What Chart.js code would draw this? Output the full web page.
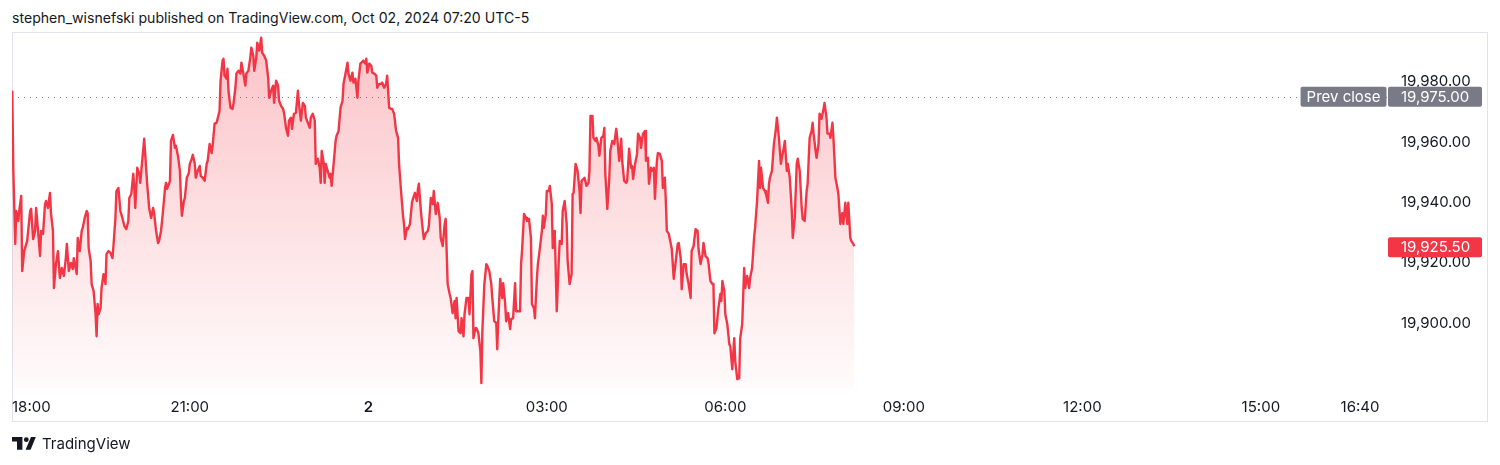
<!DOCTYPE html>
<html>
<head>
<meta charset="utf-8">
<script src="https://cdn.jsdelivr.net/npm/chart.js@4.4.1/dist/chart.umd.min.js"></script>
<style>
  html, body { margin:0; padding:0; background:#fff; width:1500px; height:465px; overflow:hidden;
    font-family: Inter, "Noto Sans", sans-serif; color:#131722; }
  #title { position:absolute; left:12px; top:9px; font-size:14.1px; line-height:17px; white-space:nowrap; }
  #frame { position:absolute; left:12px; top:32px; width:1474px; height:388px; border:1px solid #e0e3eb; box-sizing:content-box; }
  #wrap { position:absolute; left:0; top:0; width:1500px; height:465px; }
  #footer { position:absolute; left:12px; top:435px; height:17px; display:flex; align-items:center; }
  #footer span { font-size:15px; margin-left:6px; line-height:17px; color:#131722; }
</style>
</head>
<body>
<div id="frame"></div>
<div id="title">stephen_wisnefski published on TradingView.com, Oct 02, 2024 07:20 UTC-5</div>
<div id="wrap"><canvas id="c" width="1500" height="465"></canvas></div>
<div id="footer">
  <svg width="24" height="13" viewBox="0 0 24 13">
    <path d="M0 0 H10.4 V12.7 H5 V4.4 H0 Z" fill="#131722"/>
    <circle cx="14.3" cy="2.7" r="2.4" fill="#131722"/>
    <path d="M19 0 H23.8 L18.6 12.7 H13.6 Z" fill="#131722"/>
  </svg>
  <span>TradingView</span>
</div>
<script>
// ---- data (minutes after 18:00 on Oct 1, last price) ----
const times = [
  1,2,4,5,7,8,10,11,13,16,
  19,20,22,24,25,27,29,30,32,34,
  35,37,39,40,42,43,45,47,49,51,
  53,55,56,58,60,62,63,66,67,69,
  71,72,74,76,77,78,80,81,83,85,
  86,87,88,90,91,93,95,96,98,100,
  102,103,105,106,108,110,112,114,116,118,
  119,121,123,124,125,127,129,130,132,134,
  135,137,139,141,143,144,146,148,149,151,
  153,155,156,157,159,160,161,163,165,166,
  168,170,171,172,174,175,177,179,180,182,
  183,185,186,188,190,191,193,195,197,198,
  200,202,203,205,207,208,210,211,213,214,
  215,217,218,219,221,223,224,226,227,229,
  231,232,234,236,237,239,241,242,244,245,
  247,248,250,252,253,255,257,259,260,262,
  264,265,267,269,270,272,274,275,277,279,
  280,282,283,285,287,289,290,292,294,296,
  297,299,301,302,304,306,307,309,311,312,
  313,315,316,317,319,321,322,323,325,327,
  328,330,332,334,335,337,339,340,342,344,
  345,347,349,350,352,353,355,357,358,359,
  361,363,364,366,368,369,371,373,374,376,
  378,379,381,383,384,386,388,390,391,393,
  395,396,397,399,400,402,404,405,407,409,
  410,411,413,415,416,418,420,421,423,425,
  426,428,430,432,433,435,437,438,440,442,
  443,445,447,448,449,451,453,454,456,457,
  459,461,462,464,465,466,468,469,471,473,
  474,475,477,479,480,482,484,485,487,489,
  490,491,493,495,496,498,499,501,503,504,
  506,508,509,511,513,514,515,517,519,520,
  522,524,525,527,528,530,531,533,535,536,
  537,539,540,542,543,545,546,547,548,550,
  552,553,555,556,558,560,561,563,565,566,
  567,569,571,573,574,575,577,578,580,582,
  583,584,586,587,589,590,592,593,595,597,
  598,599,601,603,604,606,608,610,611,613,
  615,616,618,620,621,623,625,626,627,629,
  631,632,634,635,637,639,640,642,643,645,
  646,648,649,651,652,654,656,657,659,660,
  661,663,665,666,668,670,672,673,675,676,
  678,680,681,683,685,686,688,690,692,693,
  695,697,698,700,702,703,705,707,708,709,
  711,713,715,716,717,719,720,722,724,725,
  727,729,730,732,734,735,737,739,740,742,
  744,745,747,749,750,752,754,755,756,758,
  760,761,763,764,765,767,769,771,772,774,
  776,777,779,780,782,783,785,787,788,790,
  792,793,795,797,798,800,802,803,805,807,
  808,809,811,812,814,815,817,819,820,822,
  823,825,826,828,829,831,833,834,836,838,
  839,841,843,844,846,847,849,850
];
const prices = [
  19977.0,19951.1,19926.3,19937.2,19933.9,19937.2,19942.2,19917.3,19923.9,19927.3,
  19937.2,19937.9,19927.9,19930.6,19938.2,19930.6,19922.3,19930.6,19929.6,19939.5,
  19940.5,19938.2,19943.2,19936.5,19930.6,19911.7,19919.6,19923.9,19915.0,19918.3,
  19915.7,19921.6,19926.3,19917.3,19920.0,19918.0,19921.6,19916.3,19928.3,19923.9,
  19930.6,19931.6,19934.9,19937.2,19936.5,19924.9,19920.6,19913.0,19910.7,19903.0,
  19895.7,19906.4,19903.0,19905.0,19911.7,19916.3,19913.0,19922.9,19923.9,19923.3,
  19921.6,19925.6,19934.9,19943.8,19944.8,19937.2,19934.9,19932.2,19931.2,19933.9,
  19941.5,19942.8,19949.5,19944.8,19938.2,19951.5,19949.5,19946.5,19953.8,19961.1,
  19956.1,19946.2,19938.2,19934.9,19938.2,19936.5,19930.6,19926.6,19927.3,19930.6,
  19937.2,19944.8,19946.5,19944.5,19946.2,19947.2,19960.4,19962.4,19958.1,19958.8,
  19955.5,19950.5,19941.5,19935.6,19940.5,19941.5,19948.2,19949.8,19952.8,19954.5,
  19955.8,19952.8,19948.2,19950.5,19952.1,19948.8,19948.2,19947.2,19952.8,19953.8,
  19959.4,19956.4,19958.8,19966.1,19966.4,19967.7,19970.4,19980.3,19987.0,19987.6,
  19982.0,19981.0,19984.3,19977.0,19971.4,19971.0,19972.7,19978.0,19982.7,19983.6,
  19982.7,19986.3,19982.7,19978.7,19982.7,19983.6,19988.0,19991.3,19988.6,19983.6,
  19988.0,19992.9,19990.3,19994.6,19989.6,19988.6,19987.0,19981.3,19974.7,19977.0,
  19978.7,19973.0,19980.3,19978.7,19973.7,19972.0,19971.0,19969.7,19964.7,19962.1,
  19967.1,19968.1,19964.4,19969.4,19969.7,19977.0,19973.0,19967.1,19973.0,19972.0,
  19968.1,19966.4,19964.7,19968.1,19969.4,19967.1,19952.8,19954.5,19951.5,19946.5,
  19957.1,19953.1,19946.5,19952.8,19950.5,19948.2,19949.5,19945.5,19952.8,19960.4,
  19962.1,19963.7,19971.4,19973.7,19979.3,19982.7,19986.3,19982.7,19980.3,19983.0,
  19979.7,19981.0,19974.7,19980.3,19986.0,19986.3,19987.0,19986.0,19987.6,19983.0,
  19986.0,19985.3,19983.0,19982.7,19982.0,19978.0,19979.3,19979.3,19979.7,19978.0,
  19979.3,19982.0,19971.4,19971.0,19971.0,19969.4,19963.7,19961.4,19952.8,19943.8,
  19935.6,19932.9,19927.9,19931.6,19931.2,19932.9,19939.9,19941.2,19943.2,19940.5,
  19944.5,19946.2,19937.2,19930.6,19927.9,19929.9,19930.6,19932.2,19941.5,19939.5,
  19943.8,19936.2,19939.9,19934.9,19928.3,19925.6,19932.9,19934.6,19913.0,19909.7,
  19908.4,19903.4,19907.4,19901.7,19908.4,19897.4,19896.7,19901.7,19895.7,19903.0,
  19908.4,19908.4,19903.0,19916.3,19917.3,19895.1,19898.4,19898.4,19896.7,19890.8,
  19880.2,19897.4,19913.0,19919.6,19919.0,19917.3,19913.0,19908.4,19900.7,19900.1,
  19891.4,19900.7,19914.7,19908.4,19913.3,19906.4,19900.7,19903.4,19898.1,19901.4,
  19901.7,19913.3,19904.0,19904.0,19904.0,19919.6,19923.9,19936.2,19934.9,19933.9,
  19934.6,19928.3,19906.4,19905.0,19901.7,19915.0,19919.6,19924.9,19930.6,19935.6,
  19931.6,19936.2,19943.8,19943.8,19945.5,19939.5,19924.9,19929.6,19930.6,19904.0,
  19920.6,19927.3,19926.3,19937.2,19940.5,19932.9,19920.6,19913.0,19916.3,19942.8,
  19943.2,19952.8,19950.5,19943.8,19936.5,19947.2,19947.8,19948.2,19945.5,19946.5,
  19950.5,19968.7,19968.7,19961.4,19960.4,19961.4,19958.8,19955.5,19961.4,19962.1,
  19964.7,19949.5,19937.9,19948.2,19957.1,19960.4,19959.4,19964.4,19961.4,19953.8,
  19961.1,19953.8,19947.2,19946.5,19947.2,19957.8,19951.5,19952.1,19947.8,19952.8,
  19956.1,19962.8,19961.4,19958.1,19962.8,19963.7,19953.8,19954.8,19946.2,19951.5,
  19950.5,19951.5,19941.2,19953.8,19956.4,19956.1,19953.8,19944.8,19948.2,19940.5,
  19930.6,19929.6,19926.3,19924.6,19914.7,19920.6,19926.3,19926.6,19921.6,19911.3,
  19919.6,19919.6,19916.3,19913.0,19908.4,19923.9,19925.6,19931.2,19930.6,19924.6,
  19919.6,19922.9,19926.6,19922.3,19921.6,19920.0,19914.0,19913.0,19913.0,19896.7,
  19898.4,19905.0,19909.7,19907.4,19914.0,19910.7,19903.0,19899.7,19893.1,19892.4,
  19884.8,19895.1,19887.5,19881.5,19881.8,19895.1,19899.7,19918.3,19911.7,19915.7,
  19911.7,19915.0,19918.3,19928.3,19931.6,19940.5,19953.8,19944.8,19951.5,19944.8,
  19943.8,19942.8,19939.9,19946.2,19948.2,19950.5,19959.4,19964.4,19968.1,19961.4,
  19952.8,19954.8,19958.1,19960.4,19950.5,19952.8,19948.2,19937.2,19928.3,19934.9,
  19952.8,19954.5,19950.5,19938.2,19934.6,19933.9,19943.8,19946.2,19961.4,19963.7,
  19966.4,19962.8,19957.1,19954.8,19959.4,19969.4,19967.7,19971.0,19973.0,19968.1,
  19962.8,19962.8,19961.4,19966.4,19961.4,19948.2,19944.8,19942.8,19932.9,19936.5,
  19932.9,19939.9,19932.9,19939.9,19928.3,19927.3,19926.3,19925.5
];
const xTickMinutes = [0, 180, 360, 540, 720, 900, 1080, 1260, 1360];
const xTickLabels  = ['18:00', '21:00', '2', '03:00', '06:00', '09:00', '12:00', '15:00', '16:40'];
const yTickValues  = [19900, 19920, 19940, 19960, 19980];
const prevClose = 19975;
const lastPrice = 19925.5;

const RED = '#F23645';
const GRAY = '#787b86';
const FONT = 'Inter, "Noto Sans", sans-serif';
const fmt = v => Number(v).toLocaleString('en-US', {minimumFractionDigits:2, maximumFractionDigits:2});

function box(ctx, x, y, w, h, r, color) {
  ctx.fillStyle = color;
  ctx.beginPath();
  ctx.roundRect(x, y, w, h, r);
  ctx.fill();
}

const overlay = {
  id: 'overlay',
  beforeDatasetsDraw(chart) {
    const {ctx, chartArea, scales} = chart;
    const y = Math.round(scales.y.getPixelForValue(prevClose)) + 0.5;
    ctx.save();
    ctx.strokeStyle = GRAY;
    ctx.lineWidth = 1;
    ctx.setLineDash([1, 5]);
    ctx.beginPath();
    ctx.moveTo(chartArea.left, y);
    ctx.lineTo(chartArea.right, y);
    ctx.stroke();
    ctx.restore();
  },
  afterDraw(chart) {
    const {ctx, chartArea, scales} = chart;
    ctx.save();
    // time axis labels
    ctx.textBaseline = 'middle';
    ctx.fillStyle = '#131722';
    xTickMinutes.forEach((m, i) => {
      const label = xTickLabels[i];
      ctx.font = (label === '2' ? '600 ' : '400 ') + '15px ' + FONT;
      const w = ctx.measureText(label).width;
      let px = scales.x.getPixelForValue(m);
      ctx.textAlign = 'center';
      if (px - w / 2 < chartArea.left) { ctx.textAlign = 'left'; px = chartArea.left; }
      ctx.fillText(label, px, chartArea.bottom + 19);
    });
    // prev close labels
    ctx.font = '400 15px ' + FONT;
    const yPrev = scales.y.getPixelForValue(prevClose);
    const tw = ctx.measureText('Prev close').width;
    const bw = tw + 12;
    const bx = chartArea.right - 0.5 - bw;
    box(ctx, bx, yPrev - 10, bw, 20, 2, GRAY);
    box(ctx, chartArea.right + 1, yPrev - 10, 94, 20, 2, GRAY);
    ctx.fillStyle = '#ffffff';
    ctx.textAlign = 'left';
    ctx.fillText('Prev close', bx + 6, yPrev + 0.5);
    ctx.fillText(fmt(prevClose), chartArea.right + 14, yPrev + 0.5);
    // last price label
    const yLast = scales.y.getPixelForValue(lastPrice);
    box(ctx, chartArea.right + 1, yLast - 9, 94, 20, 2, RED);
    ctx.fillStyle = '#ffffff';
    ctx.fillText(fmt(lastPrice), chartArea.right + 14, yLast + 1.5);
    ctx.restore();
  }
};

const points = times.map((t, i) => ({x: t, y: prices[i]}));

new Chart(document.getElementById('c'), {
  type: 'line',
  data: {
    datasets: [{
      data: points,
      borderColor: RED,
      borderWidth: 2.4,
      borderJoinStyle: 'round',
      pointRadius: 0,
      tension: 0,
      fill: 'start',
      backgroundColor: (c) => {
        const ca = c.chart.chartArea;
        if (!ca) return 'rgba(242,54,69,0.15)';
        const g = c.chart.ctx.createLinearGradient(0, ca.top, 0, ca.bottom);
        g.addColorStop(0, 'rgba(242,54,69,0.30)');
        g.addColorStop(1, 'rgba(242,54,69,0.02)');
        return g;
      }
    }]
  },
  options: {
    responsive: false,
    animation: false,
    devicePixelRatio: 1,
    layout: { padding: { left: 12, top: 33, right: 0, bottom: 0 } },
    plugins: { legend: { display: false }, tooltip: { enabled: false }, title: { display: false } },
    scales: {
      x: {
        type: 'linear', min: 0.7, max: 1387.2,
        grid: { display: false }, border: { display: false },
        ticks: { display: false },
        afterFit: s => { s.height = 77; }
      },
      y: {
        position: 'right', min: 19878.58, max: 19996.13,
        grid: { display: false, drawTicks: false }, border: { display: false },
        afterBuildTicks: s => { s.ticks = yTickValues.map(v => ({value: v})); },
        afterFit: s => { s.width = 113; },
        ticks: { padding: 14, color: '#131722', font: { family: FONT, size: 15 }, callback: v => fmt(v) }
      }
    }
  },
  plugins: [overlay]
});
</script>
</body>
</html>
